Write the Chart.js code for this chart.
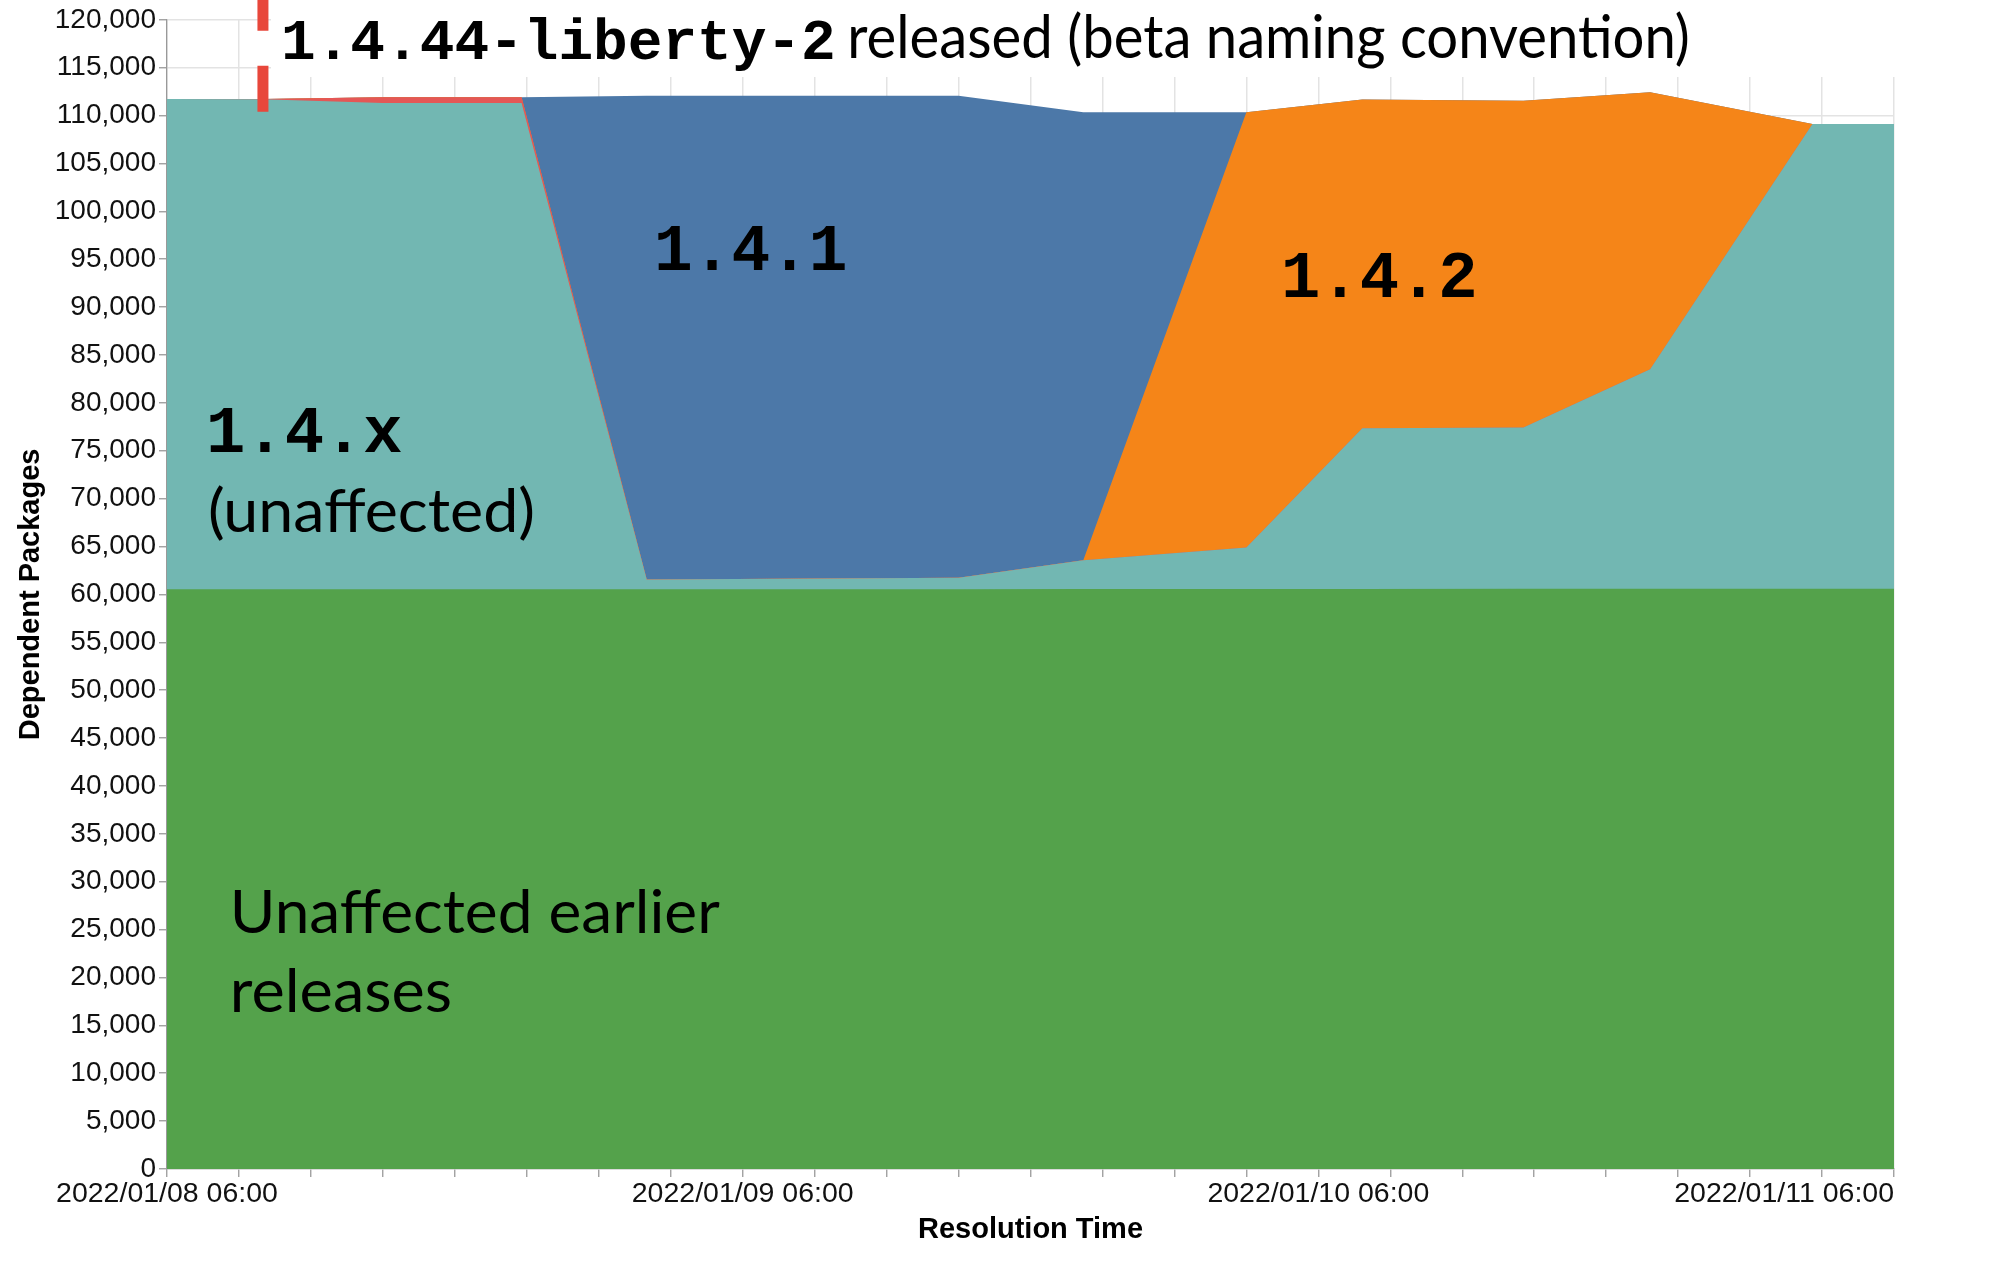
<!DOCTYPE html>
<html>
<head>
<meta charset="utf-8">
<script src="https://cdn.jsdelivr.net/npm/chart.js@4.4.1/dist/chart.umd.min.js"></script>
<style>
  html, body { margin: 0; padding: 0; background: #ffffff; }
  #wrap { width: 1999px; height: 1269px; position: relative; }
</style>
</head>
<body>
<div id="wrap"><canvas id="c"></canvas></div>
<script>
// ---- data ----
const times = [
  '2022-01-08 06:00', '2022-01-08 10:00', '2022-01-08 15:00', '2022-01-08 20:47',
  '2022-01-09 02:00', '2022-01-09 15:00', '2022-01-09 20:12', '2022-01-10 03:00',
  '2022-01-10 07:50', '2022-01-10 14:33', '2022-01-10 19:50', '2022-01-11 02:36',
  '2022-01-11 06:00'
];
const unaffectedEarlier = [60550, 60550, 60550, 60550, 60550, 60550, 60560, 60560, 60570, 60580, 60590, 60600, 60600];
const v14x            = [51180, 51150, 50760, 50760, 1010, 1180, 3010, 4340, 16780, 16850, 22910, 48530, 48530];
const vLiberty        = [0, 30, 590, 590, 0, 0, 0, 0, 0, 0, 0, 0, 0];
const v142            = [0, 0, 0, 0, 0, 0, 0, 45440, 34320, 34130, 28930, 0, 0];
const v141            = [0, 0, 0, 0, 50520, 50350, 46770, 0, 0, 0, 0, 0, 0];
const seriesNames = ['Unaffected earlier releases', '1.4.x (unaffected)', '1.4.44-liberty-2', '1.4.2', '1.4.1'];
const xTickValues = ['2022-01-08 06:00', '2022-01-09 06:00', '2022-01-10 06:00', '2022-01-11 06:00'];
const xTickLabels = ['2022/01/08 06:00', '2022/01/09 06:00', '2022/01/10 06:00', '2022/01/11 06:00'];
const releaseTime = '2022-01-08 10:00';
const releaseRuleFrom = 110400;

// ---- helpers ----
const START = '2022-01-08 06:00';
function toHours(s) {
  const [d, t] = s.split(' ');
  const [Y, M, D] = d.split('-').map(Number);
  const [h, m] = t.split(':').map(Number);
  const [Y0, M0, D0] = START.split(' ')[0].split('-').map(Number);
  const [h0, m0] = START.split(' ')[1].split(':').map(Number);
  return (Date.UTC(Y, M - 1, D, h, m) - Date.UTC(Y0, M0 - 1, D0, h0, m0)) / 3600000;
}
const xs = times.map(toHours);
const pts = arr => arr.map((v, i) => ({ x: xs[i], y: v }));

const colors = ['#54a24b', '#72b7b2', '#e45756', '#f58518', '#4c78a8'];
const seriesValues = [unaffectedEarlier, v14x, vLiberty, v142, v141];

const datasets = seriesValues.map((arr, i) => ({
  label: seriesNames[i],
  data: pts(arr),
  fill: 'origin',
  backgroundColor: colors[i],
  borderColor: colors[i],
  borderWidth: 0,
  pointRadius: 0,
  tension: 0
}));

function drawInk(ctx, text, font, inkLeft, inkRight, baseline, color) {
  ctx.save();
  ctx.font = font;
  ctx.textAlign = 'left';
  ctx.textBaseline = 'alphabetic';
  ctx.fillStyle = color || '#000';
  const m = ctx.measureText(text);
  const w = m.actualBoundingBoxLeft + m.actualBoundingBoxRight;
  const sx = Math.max(0.75, Math.min(1.25, (inkRight - inkLeft) / w));
  ctx.translate(inkLeft, baseline);
  ctx.scale(sx, 1);
  ctx.fillText(text, m.actualBoundingBoxLeft, 0);
  ctx.restore();
}

const MONO = '"Liberation Mono", "DejaVu Sans Mono", monospace';
const SANS = 'Lato, "Open Sans", "Noto Sans", sans-serif';
const AXISF = '"Liberation Sans", Arial, sans-serif';

const annotations = {
  id: 'annotations',
  afterDatasetsDraw(chart) {
    const ctx = chart.ctx;
    const xS = chart.scales.x, yS = chart.scales.y;
    // white box behind the release note
    ctx.save();
    ctx.fillStyle = '#ffffff';
    ctx.fillRect(271, 0, 1999 - 271, 77);
    ctx.restore();
    // red dashed release rule
    const rx = xS.getPixelForValue(toHours(releaseTime));
    const ry = yS.getPixelForValue(releaseRuleFrom);
    ctx.save();
    ctx.strokeStyle = '#e8473b';
    ctx.lineWidth = 11;
    ctx.setLineDash([46, 35]);
    ctx.beginPath();
    ctx.moveTo(rx, ry);
    ctx.lineTo(rx, -60);
    ctx.stroke();
    ctx.restore();
    // labels
    drawInk(ctx, '1.4.44-liberty-2', 'bold 58px ' + MONO, 284, 833, 59);
    drawInk(ctx, 'released (beta naming convention)', '60px ' + SANS, 851, 1688, 58);
    drawInk(ctx, '1.4.1', 'bold 66px ' + MONO, 658, 845, 270);
    drawInk(ctx, '1.4.2', 'bold 66px ' + MONO, 1285, 1474, 297);
    drawInk(ctx, '1.4.x', 'bold 66px ' + MONO, 210, 401, 452);
    drawInk(ctx, '(unaffected)', '60px ' + SANS, 210, 533, 532);
    drawInk(ctx, 'Unaffected earlier', '60px ' + SANS, 234, 720, 933);
    drawInk(ctx, 'releases', '60px ' + SANS, 234, 450, 1012);
  },
  afterDraw(chart) {
    const ctx = chart.ctx;
    const xS = chart.scales.x;
    ctx.save();
    ctx.font = '28.5px ' + AXISF;
    ctx.fillStyle = '#111';
    ctx.textBaseline = 'middle';
    xTickValues.forEach((t, i) => {
      const px = xS.getPixelForValue(toHours(t));
      ctx.textAlign = (i === xTickValues.length - 1) ? 'right' : 'center';
      ctx.fillText(xTickLabels[i], px, 1194);
    });
    ctx.restore();
  }
};

new Chart(document.getElementById('c'), {
  type: 'line',
  data: { datasets },
  options: {
    responsive: true,
    maintainAspectRatio: false,
    devicePixelRatio: 1,
    animation: false,
    layout: { padding: { top: 17, right: 105, bottom: 0, left: 0 } },
    plugins: { legend: { display: false }, tooltip: { enabled: false } },
    elements: { line: { borderWidth: 0 } },
    scales: {
      x: {
        type: 'linear',
        min: 0,
        max: toHours(times[times.length - 1]),
        ticks: { stepSize: 3, display: false, autoSkip: false },
        grid: { color: '#e3e3e3', lineWidth: 1.5, tickLength: 8, tickColor: '#999', tickWidth: 1.3 },
        border: { color: '#999', width: 1.3 },
        title: { display: true, text: 'Resolution Time', color: '#000',
                 font: { family: AXISF, size: 29, weight: 'bold' }, padding: { top: 0, bottom: 22 } },
        afterFit(s) { s.height = 100; }
      },
      y: {
        type: 'linear',
        stacked: true,
        min: 0,
        max: 120000,
        ticks: { stepSize: 5000, color: '#111', padding: 3,
                 font: { family: AXISF, size: 28 },
                 callback: v => Number(v).toLocaleString('en-US') },
        grid: { color: '#e3e3e3', lineWidth: 1.5, tickLength: 8, tickColor: '#999', tickWidth: 1.3 },
        border: { color: '#999', width: 1.3 },
        title: { display: true, text: 'Dependent Packages', color: '#000',
                 font: { family: AXISF, size: 29, weight: 'bold' }, padding: { top: 14, bottom: 0 } },
        afterFit(s) { s.width = 167; }
      }
    }
  },
  plugins: [annotations]
});
</script>
</body>
</html>
